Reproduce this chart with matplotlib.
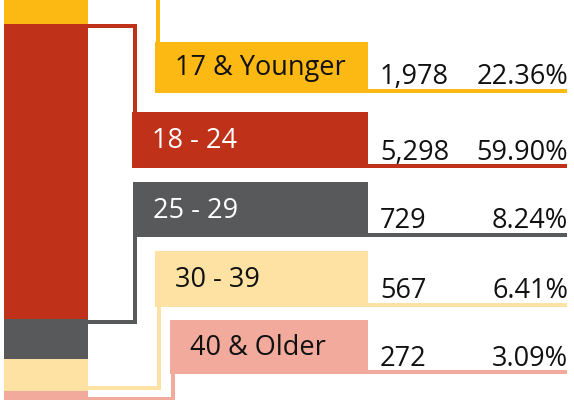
import matplotlib
matplotlib.use("Agg")
import matplotlib.pyplot as plt
from matplotlib.patches import Rectangle
import numpy as np

# ---- data ----
categories = ["17 & Younger", "18 - 24", "25 - 29", "30 - 39", "40 & Older"]
counts = [1978, 5298, 729, 567, 272]
percents = [22.36, 59.90, 8.24, 6.41, 3.09]
count_labels = ["1,978", "5,298", "729", "567", "272"]
pct_labels = ["22.36%", "59.90%", "8.24%", "6.41%", "3.09%"]

colors = ["#FDB913", "#C0311A", "#58595B", "#FDE2A4", "#F2AA9C"]
label_colors = ["#111111", "white", "white", "#111111", "#111111"]

FONT = ["Open Sans", "DejaVu Sans"]
FS = 19.5

W, H = 574, 400
fig = plt.figure(figsize=(W / 100, H / 100), dpi=100)
ax = fig.add_axes([0, 0, 1, 1])
ax.set_xlim(0, W)
ax.set_ylim(H, 0)
ax.axis("off")

# stacked bar axes (percent scale)
k = 4.924
v_top = 73.01 - 273.25 / k
v_bot = 73.01 + (H - 273.25) / k
axb = fig.add_axes([4 / W, 0, 84 / W, 1])
axb.set_xlim(-0.5, 0.5)
axb.set_ylim(v_bot, v_top)
axb.axis("off")
axb.patch.set_alpha(0)
cum = np.concatenate([[0], np.cumsum(percents)])
for i, p in enumerate(percents):
    axb.bar(0, p, bottom=cum[i], width=1.0, color=colors[i], zorder=3)

def seg_top_px(i):
    disp = axb.transData.transform((0, cum[i]))
    return H - disp[1]

# boxes (left, top, right, bottom) in pixels
boxes = [
    (155, 42, 368, 93),
    (132, 112, 368, 168),
    (133, 182, 368, 237),
    (155, 251, 368, 307),
    (170, 320, 368, 374),
]
text_x_off = 20
lw = 4 * 72 / 100
bar_right = 88

ax.plot([158, 158], [-10, boxes[0][1]], color=colors[0], lw=lw, solid_capstyle="butt", zorder=1)
yr = seg_top_px(1) + 2.5
ax.plot([bar_right - 2, 135, 135], [yr, yr, boxes[1][1] + 1], color=colors[1], lw=lw,
        solid_joinstyle="miter", solid_capstyle="butt", zorder=1)
yg = seg_top_px(2) + 3
ax.plot([bar_right - 2, 135, 135], [yg, yg, boxes[2][3] - 1], color=colors[2], lw=lw,
        solid_joinstyle="miter", solid_capstyle="butt", zorder=1)
yl = seg_top_px(4) - 3
ax.plot([bar_right - 2, 158.5, 158.5], [yl, yl, boxes[3][3] - 1], color=colors[3], lw=lw,
        solid_joinstyle="miter", solid_capstyle="butt", zorder=1)
yp = 398.5
ax.plot([bar_right - 2, 172.5, 172.5], [yp, yp, boxes[4][3] - 1], color=colors[4], lw=lw,
        solid_joinstyle="miter", solid_capstyle="butt", zorder=1)

for i, (l, t, r, b) in enumerate(boxes):
    ax.add_patch(Rectangle((l, t), r - l, b - t, color=colors[i], lw=0, zorder=2))
    ax.text(l + text_x_off, (t + b) / 2 + 1, categories[i], color=label_colors[i],
            fontsize=FS, family=FONT, weight="medium", ha="left", va="center", zorder=4)
    ax.add_patch(Rectangle((r - 1, b - 4.5), 567 - r + 1, 4.5, color=colors[i], lw=0, zorder=2))
    ax.text(380, b - 8.5, count_labels[i], color="#111111", fontsize=FS, family=FONT,
            weight="medium", ha="left", va="baseline", zorder=4)
    ax.text(568, b - 8.5, pct_labels[i], color="#111111", fontsize=FS, family=FONT,
            weight="medium", ha="right", va="baseline", zorder=4)

fig.savefig("out.png", dpi=100, facecolor="white")
